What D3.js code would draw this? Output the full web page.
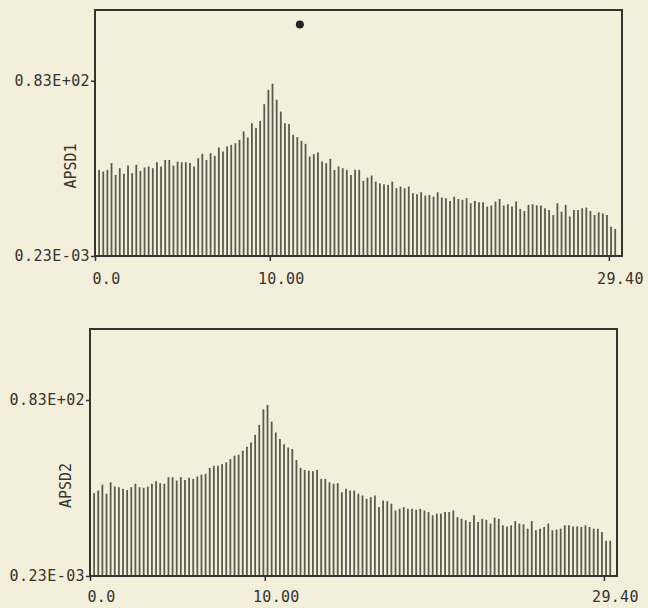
<!DOCTYPE html>
<html>
<head>
<meta charset="utf-8">
<script src="https://cdn.jsdelivr.net/npm/d3@7"></script>
<style>
  html, body { margin: 0; padding: 0; background: #f4efdb; }
  svg { display: block; }
</style>
</head>
<body>
<div id="chart"></div>
<script>
// APSD values, one per spectral line
let apsd1 = [
  40.0,
  40.8, 40.0, 40.8, 44.0, 38.4, 41.6, 38.9, 42.8, 39.2, 43.2, 40.3, 41.9, 42.4, 41.6, 44.4, 42.4, 45.5, 45.5, 42.8, 44.7, 44.4,
  44.4, 44.0, 42.4, 46.3, 48.4, 45.5, 48.7, 47.4, 51.4, 49.5, 51.9, 52.6, 53.4, 55.0, 59.0, 56.1, 62.9, 60.6, 64.0, 71.9, 78.7,
  81.6,
  74.0, 68.4, 62.9, 62.5, 57.4, 56.3, 54.5, 53.1, 47.1, 48.2, 49.0, 44.7, 44.0, 46.0, 40.8, 42.4, 41.6, 40.8, 38.4, 40.8,
  40.8, 35.6, 37.1, 38.1, 35.2, 34.4, 34.0, 33.7, 35.2, 32.1, 32.9, 32.1, 32.9, 29.7, 29.3, 30.2, 28.6, 28.9, 28.1, 30.2, 27.7, 27.4,
  26.1, 28.1, 27.0, 26.6, 27.4, 25.0, 26.1, 25.5, 25.5, 23.4, 23.9, 25.8, 27.0, 23.9, 24.5, 23.4, 25.8, 22.3, 21.3, 24.2, 24.5,
  24.0,
  23.9, 22.6, 21.8, 19.4, 25.0, 21.0, 24.2, 18.7, 21.8, 21.8, 22.6, 22.9, 21.3, 19.4, 20.7, 20.2, 19.4, 13.9, 12.8
];

let apsd2 = [
  40.3, 39.1, 40.3, 43.1, 38.8, 44.2, 42.2, 41.9, 41.1, 40.6, 41.9, 43.5, 41.9, 41.6, 42.2, 43.5, 44.7, 43.8, 43.5, 46.6,
  46.6, 45.0, 46.6, 45.3, 46.3, 45.8, 46.9, 47.8, 48.2, 51.0, 52.0, 52.0, 52.8, 53.6, 55.2, 56.7, 57.2, 59.1, 61.0, 63.0,
  66.6, 71.3, 78.6, 80.7, 72.8, 67.7, 64.6, 62.2, 60.6, 59.9, 54.7, 51.0, 50.0, 49.7, 49.4, 50.0, 45.8, 45.8,
  44.2, 43.5, 43.8, 39.5, 41.1, 40.3, 40.3, 38.8, 38.0, 36.4, 37.2, 38.0, 32.5, 35.6, 35.3, 34.1, 30.9, 31.7, 32.5, 31.7,
  31.7, 31.2, 31.7, 30.9, 30.2, 28.6, 29.4, 29.4, 30.2, 30.2, 30.9, 27.8, 27.0, 26.3, 25.5, 28.6, 25.5, 27.0, 26.5, 24.7,
  27.5, 27.0, 23.9, 23.4, 23.9, 25.9, 24.7, 24.4, 22.3, 25.9, 21.6, 22.3, 23.1, 24.7, 21.6, 21.9, 22.3, 23.9, 23.9, 23.4,
  23.4, 23.1, 23.9, 23.1, 22.3, 22.3, 20.8, 16.6, 16.6
];

let freqStep = 0.2362;          // spacing of spectral lines
let xMax = 30.15;               // right edge of the frame
let yMin = 0.23e-3, yMax = 116.5;

let xTicks = [0, 10, 29.4];
let xTickLabels = ["0.0", "10.00", "29.40"];
let yTicks = [0.23e-3, 83];
let yTickLabels = ["0.23E-03", "0.83E+02"];

// plotter dot on the upper frame
let marker1 = { freq: 11.72, value: 109.6 };

let width = 648, height = 608;
let fontFamily = "'DejaVu Sans Mono', 'Liberation Mono', monospace";
let ink = "#34332e";
let barInk = "#5a5952";

let panels = [
  { data: apsd1, name: "APSD1", left: 95, top: 10, right: 622, bottom: 256, titleX: 71, labelPad: 12, marker: marker1 },
  { data: apsd2, name: "APSD2", left: 90, top: 329, right: 617, bottom: 576, titleX: 66, labelPad: 10, marker: null }
];

let svg = d3.select("#chart").append("svg")
  .attr("width", width)
  .attr("height", height)
  .style("background", "#f4efdb");

function drawPanel(p) {
  let xScale = d3.scaleLinear().domain([0, xMax]).range([p.left, p.right]);
  let yScale = d3.scaleLinear().domain([yMin, yMax]).range([p.bottom, p.top]);

  let g = svg.append("g");

  // bars as thin vertical strokes
  g.selectAll("line.bar")
    .data(p.data)
    .enter().append("line")
    .attr("class", "bar")
    .attr("x1", (d, i) => xScale(i * freqStep))
    .attr("x2", (d, i) => xScale(i * freqStep))
    .attr("y1", yScale(yMin))
    .attr("y2", d => yScale(d))
    .attr("stroke", barInk)
    .attr("stroke-width", 1.8);

  // frame
  g.append("rect")
    .attr("x", p.left)
    .attr("y", p.top)
    .attr("width", p.right - p.left)
    .attr("height", p.bottom - p.top)
    .attr("fill", "none")
    .attr("stroke", ink)
    .attr("stroke-width", 2);

  // x axis
  let xAxis = d3.axisBottom(xScale)
    .tickValues(xTicks)
    .tickFormat((d, i) => xTickLabels[i])
    .tickSize(5)
    .tickPadding(p.labelPad);
  let gx = g.append("g")
    .attr("transform", "translate(0," + p.bottom + ")")
    .call(xAxis);
  gx.select(".domain").remove();
  gx.selectAll("line").attr("stroke", ink).attr("stroke-width", 1.5);
  gx.selectAll("text")
    .attr("dx", 11)
    .attr("fill", ink)
    .style("font-family", fontFamily)
    .style("font-size", "15px")
    .style("letter-spacing", "0.3px");

  // y axis
  let yAxis = d3.axisLeft(yScale)
    .tickValues(yTicks)
    .tickFormat((d, i) => yTickLabels[i])
    .tickSize(4)
    .tickPadding(1);
  let gy = g.append("g")
    .attr("transform", "translate(" + p.left + ",0)")
    .call(yAxis);
  gy.select(".domain").remove();
  gy.selectAll("line").attr("stroke", ink).attr("stroke-width", 1.5);
  gy.selectAll("text")
    .attr("fill", ink)
    .style("font-family", fontFamily)
    .style("font-size", "15px")
    .style("letter-spacing", "0.4px");

  // y title
  let cy = (p.top + p.bottom) / 2 + 33;
  g.append("text")
    .attr("transform", "translate(" + p.titleX + "," + cy + ") rotate(-90)")
    .attr("text-anchor", "middle")
    .attr("dy", "0.35em")
    .attr("fill", ink)
    .style("font-family", fontFamily)
    .style("font-size", "15px")
    .text(p.name);

  if (p.marker) {
    g.append("circle")
      .attr("cx", xScale(p.marker.freq))
      .attr("cy", yScale(p.marker.value))
      .attr("r", 4)
      .attr("fill", "#222");
  }
}

panels.forEach(drawPanel);
</script>
</body>
</html>
